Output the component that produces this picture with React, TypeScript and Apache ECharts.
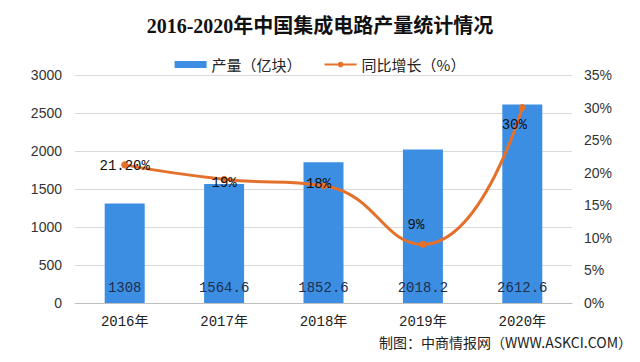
import React, { useEffect, useRef } from "react";
import * as echarts from "echarts";

const categories = ["2016年", "2017年", "2018年", "2019年", "2020年"];
const output = [1308, 1564.6, 1852.6, 2018.2, 2612.6];
const outputLabels = ["1308", "1564.6", "1852.6", "2018.2", "2612.6"];
const growth = [21.2, 19, 18, 9, 30];
const growthLabels = ["21.20%", "19%", "18%", "9%", "30%"];
const growthLabelOffsets = [[0, 1], [0, 4], [-5, -2], [-7, -19], [-8, 17]];

export default function App() {
  const ref = useRef<HTMLDivElement>(null);
  useEffect(() => {
    if (!ref.current) return;
    const chart = echarts.init(ref.current, null, { renderer: "svg" });
    chart.setOption({
      animation: false,
      backgroundColor: "#fff",
      title: {
        text: "2016-2020年中国集成电路产量统计情况",
        left: "center",
        top: 11,
        textStyle: {
          fontFamily: "'Liberation Serif', 'Noto Sans CJK SC', serif",
          fontSize: 20,
          fontWeight: "bold",
          color: "#111",
        },
      },
      legend: {
        top: 52,
        left: "center",
        itemGap: 22,
        itemWidth: 32,
        itemHeight: 7,
        textStyle: { fontSize: 15, color: "#222", fontFamily: "'Noto Sans CJK SC', sans-serif" },
        data: [
          { name: "产量（亿块）", icon: "rect" },
          { name: "同比增长（%）" },
        ],
      },
      grid: { left: 75, right: 68, top: 75, bottom: 59 },
      xAxis: {
        type: "category",
        data: categories,
        axisTick: { show: false },
        axisLine: { lineStyle: { color: "#bfbfbf" } },
        axisLabel: { fontSize: 14, color: "#222", margin: 12, fontFamily: "'Liberation Mono', 'Noto Sans CJK SC', monospace" },
      },
      yAxis: [
        {
          type: "value",
          min: 0,
          max: 3000,
          interval: 500,
          axisLabel: { fontSize: 14, color: "#333", margin: 13, formatter: (v: number) => String(v), fontFamily: "'Liberation Sans', sans-serif" },
          splitLine: { lineStyle: { color: "#d9d9d9" } },
          axisLine: { show: false },
          axisTick: { show: false },
        },
        {
          type: "value",
          min: 0,
          max: 35,
          interval: 5,
          axisLabel: { fontSize: 14, color: "#333", margin: 12, formatter: "{value}%", fontFamily: "'Liberation Sans', sans-serif" },
          splitLine: { show: false },
          axisLine: { show: false },
          axisTick: { show: false },
        },
      ],
      series: [
        {
          name: "产量（亿块）",
          type: "bar",
          barWidth: 40,
          itemStyle: { color: "#3C8EE3" },
          data: output,
          label: {
            show: true,
            position: "insideBottom",
            distance: 8,
            fontSize: 14,
            color: "#1f2f4f",
            fontFamily: "'Liberation Mono', monospace",
            formatter: (p: any) => outputLabels[p.dataIndex],
          },
        },
        {
          name: "同比增长（%）",
          type: "line",
          yAxisIndex: 1,
          smooth: true,
          symbol: "circle",
          symbolSize: 7,
          lineStyle: { color: "#E5702C", width: 3 },
          itemStyle: { color: "#E5702C" },
          data: growth.map((v, i) => ({
            value: v,
            label: { offset: growthLabelOffsets[i] },
          })),
          label: {
            show: true,
            position: "inside",
            fontSize: 14,
            color: "#111",
            fontFamily: "'Liberation Mono', monospace",
            formatter: (p: any) => growthLabels[p.dataIndex],
          },
        },
      ],
      graphic: [
        {
          type: "text",
          right: 8,
          top: 335,
          style: {
            text: "制图：中商情报网（WWW.ASKCI.COM）",
            fontSize: 14,
            fill: "#222",
            fontFamily: "'Noto Sans CJK SC', sans-serif",
          },
        },
      ],
    });
    return () => chart.dispose();
  }, []);
  return <div ref={ref} style={{ width: 640, height: 362, position: "absolute", left: 0, top: 0 }} />;
}
